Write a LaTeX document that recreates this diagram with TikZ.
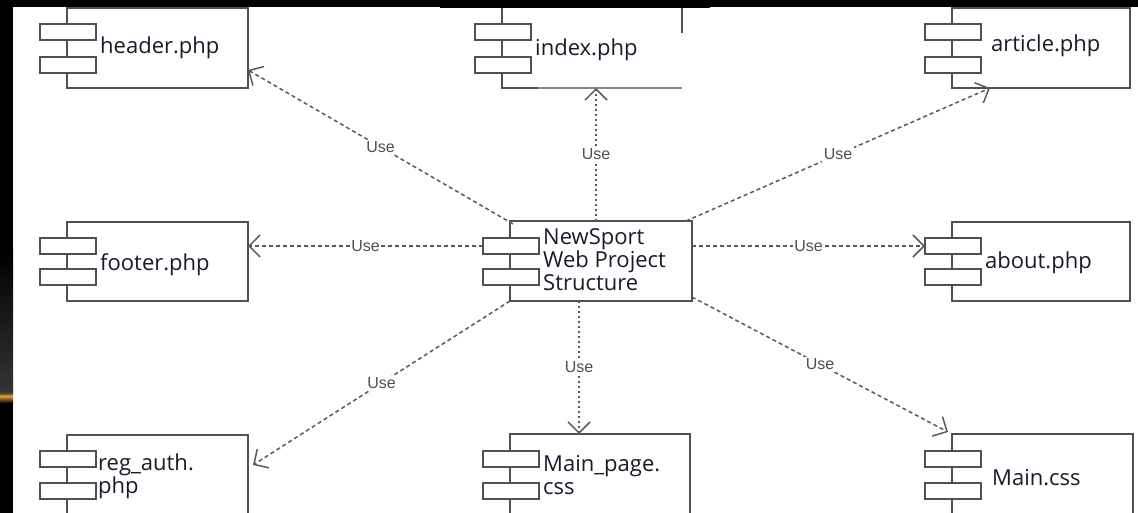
\documentclass[tikz,border=0pt]{standalone}
\usepackage{fontspec}
\setmainfont{Open Sans}
\newfontfamily\lblfont{Liberation Sans}
\usetikzlibrary{arrows.meta}

\definecolor{linegray}{HTML}{505050}
\definecolor{dashgray}{HTML}{5A5A5A}
\definecolor{inkblue}{HTML}{1A1A2A}
\definecolor{glow}{HTML}{E0A040}

\tikzset{
  compbox/.style={draw=linegray, line width=1.8pt, fill=white, inner sep=0pt, outer sep=0pt},
  compport/.style={draw=linegray, line width=1.8pt, fill=white, inner sep=0pt, outer sep=0pt,
                   minimum width=56pt, minimum height=16pt},
  comptext/.style={inner sep=0pt, anchor=west, align=left, text=inkblue,
                   font=\fontsize{22pt}{23pt}\selectfont},
  uses/.style={draw=dashgray, line width=1.5pt, dash pattern=on 4pt off 3pt,
               -{Straight Barb[length=11pt,width=22pt,line width=1.5pt]}},
  usesv/.style={uses, dash pattern=on 2pt off 3pt},
  uselabel/.style={fill=white, inner sep=1.5pt, text=linegray,
                   font=\lblfont\fontsize{16pt}{18pt}\selectfont},
}

% component: name, left, top, width, height, first port offset, second port offset
\newcommand\umlcomp[7]{%
  \node[compbox, minimum width=#4pt, minimum height=#5pt, anchor=north west] (#1) at (#2,#3) {};
  \node[compport, anchor=north west] (#1-p1) at ({#2-27},{#3+#6}) {};
  \node[compport, anchor=north west] (#1-p2) at ({#2-27},{#3+#7}) {};
}

\begin{document}
\begin{tikzpicture}[x=1pt, y=-1pt]
\useasboundingbox (0,0) rectangle (1138,513);
\clip (0,0) rectangle (1138,513);
\fill[white] (0,0) rectangle (1138,513);

% dark frame on the top and left
\fill[black] (0,0) rectangle (1138,7.5);
\fill[black] (440,0) rectangle (710,8.5);
\fill[black] (0,0) rectangle (13,513);
\shade[top color=black, bottom color={black!80!white}] (0,250) rectangle (13,390);
\shade[top color={black!80!white}, bottom color=glow, middle color={black!60!glow}] (0,390) rectangle (13,396);
\shade[top color=glow, bottom color=black] (0,396) rectangle (13,403);

% components
\umlcomp{header}{67}{8}{181}{80}{16}{49}
\node[compbox, draw=none, minimum width=180pt, minimum height=80pt, anchor=north west] (index) at (502,8) {};
\draw[linegray, line width=1.8pt] (index.north west) -- (index.south west) -- ++(36,0);
\draw[linegray!70, line width=1.1pt] ([xshift=36pt]index.south west) -- (index.south east);
\draw[linegray, line width=1.8pt] (index.north east) -- ++(0,25);
\node[compport, anchor=north west] (index-p1) at (475,24) {};
\node[compport, anchor=north west] (index-p2) at (475,57) {};
\umlcomp{article}{952}{8}{178}{80}{16}{49}
\umlcomp{footer}{67}{222}{181}{79}{16}{47}
\umlcomp{center}{510}{221}{182}{80}{17}{48}
\umlcomp{about}{952}{222}{178}{79}{16}{47}
\umlcomp{reg}{67}{435}{181}{100}{16}{48}
\umlcomp{mainpage}{510}{434}{180}{100}{17}{49}
\umlcomp{maincss}{952}{434}{181}{100}{17}{49}

% component names
\node[comptext] (header-t) at (100,48) {header.php};
\node[comptext] (index-t) at (535,50) {index.php};
\node[comptext] (article-t) at (991,46) {article.php};
\node[comptext] (footer-t) at (100,265) {footer.php};
\node[comptext] (center-t) at (543,260) {NewSport\\Web Project\\Structure};
\node[comptext] (about-t) at (985,263) {about.php};
\node[comptext] (reg-t) at (98,476) {reg\_auth.\\php};
\node[comptext] (mainpage-t) at (543,475) {Main\_page.\\css};
\node[comptext] (maincss-t) at (992,478) {Main.css};

% dependencies
\draw[uses] ([xshift=3pt,yshift=-3pt]center.north west) -- ([yshift=18pt]header.south east)
  node[midway, uselabel] {Use};
\draw[usesv] ([xshift=-5pt]center.north) -- ([xshift=4pt]index.south)
  node[midway, uselabel] {Use};
\draw[uses] ([xshift=-6pt]center.north east) -- ([xshift=38pt]article.south west)
  node[midway, uselabel] {Use};
\draw[uses] (center-p1.west) -- (footer.east |- center-p1.west)
  node[midway, uselabel] {Use};
\draw[uses] (center.east |- about-p1.west) -- (about-p1.west)
  node[midway, uselabel] {Use};
\draw[uses] (center.south west) -- ([xshift=5pt,yshift=-30pt]reg.north east)
  node[midway, uselabel] {Use};
\draw[usesv] ([xshift=-22pt]center.south) -- ([xshift=-21pt]mainpage.north)
  node[midway, uselabel] {Use};
\draw[uses] ([yshift=4pt]center.south east) -- ([xshift=-4pt,yshift=2pt]maincss.north west)
  node[midway, uselabel] {Use};
\end{tikzpicture}
\end{document}
